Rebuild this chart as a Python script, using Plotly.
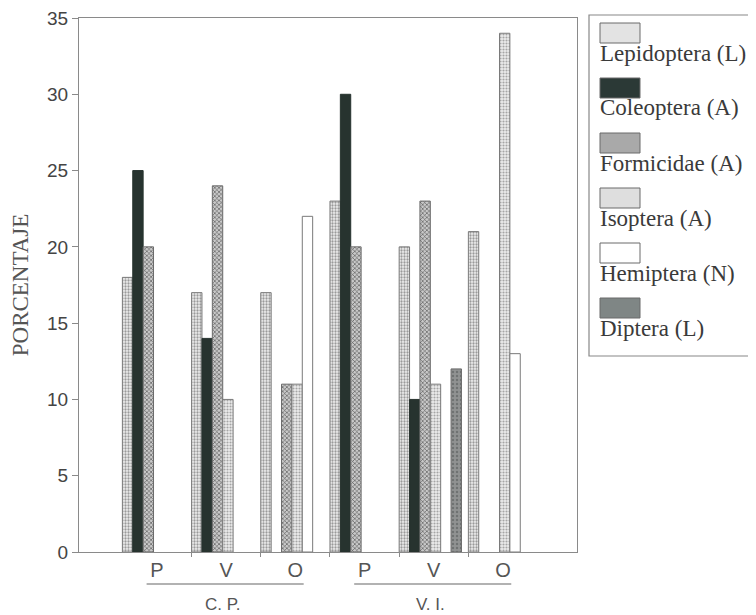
import plotly.graph_objects as go

# ---- data ----
groups = ["P", "V", "O", "P", "V", "O"]
sites = ["C. P.", "V. I."]
lepidoptera = [18, 17, 17, 23, 20, 21]
coleoptera = [25, 14, None, 30, 10, None]
formicidae = [20, 24, 11, 20, 23, None]
isoptera = [None, 10, 11, None, 11, 34]
hemiptera = [None, None, 22, None, None, 13]
diptera = [None, None, None, None, 12, None]
series_names = ["Lepidoptera (L)", "Coleoptera (A)", "Formicidae (A)",
                "Isoptera (A)", "Hemiptera (N)", "Diptera (L)"]
y_ticks = [0, 5, 10, 15, 20, 25, 30, 35]

series = [lepidoptera, coleoptera, formicidae, isoptera, hemiptera, diptera]

styles = [
    dict(color="#ebebeb", pattern=dict(shape=".", size=3, solidity=0.45,
                                       bgcolor="#eeeeee", fgcolor="#9a9a9a", fillmode="replace"),
         line=dict(color="#7a7a7a", width=1)),
    dict(color="#27332f", line=dict(color="#27332f", width=1)),
    dict(color="#b5b5b5", pattern=dict(shape="x", size=3, solidity=0.35,
                                       bgcolor="#c9c9c9", fgcolor="#4d4d4d", fillmode="replace"),
         line=dict(color="#6a6a6a", width=1)),
    dict(color="#e2e2e2", pattern=dict(shape=".", size=3, solidity=0.4,
                                       bgcolor="#ececec", fgcolor="#a5a5a5", fillmode="replace"),
         line=dict(color="#7a7a7a", width=1)),
    dict(color="#ffffff", line=dict(color="#7a7a7a", width=1)),
    dict(color="#8a8c8c", pattern=dict(shape=".", size=4, solidity=0.3,
                                       bgcolor="#909292", fgcolor="#6f7272", fillmode="replace"),
         line=dict(color="#6a6a6a", width=1)),
]
swatch_fill = ["#e3e3e3", "#2b3936", "#a9a9a9", "#dedede", "#ffffff", "#7f8685"]

n = len(series)
bw = 0.9 / n
xs = list(range(len(groups)))

fig = go.Figure()
for k, (vals, name, st) in enumerate(zip(series, series_names, styles)):
    fig.add_trace(go.Bar(
        x=xs, y=vals, name=name, width=bw, offset=-0.5 + k * bw,
        marker=st, showlegend=False,
    ))

# page body has an 8px margin: figure is shifted by (8, 8) in the window
PAGE = 8
PL, PR, PT, PB = 79, 577, 18, 552   # desired plot area in window pixels
W, H = 756 - PAGE, 615 - PAGE

axis_col = "#8a8a8a"
fig.update_layout(
    width=W, height=H,
    margin=dict(l=PL - PAGE, r=W - (PR - PAGE), t=PT - PAGE, b=H - (PB - PAGE)),
    plot_bgcolor="white", paper_bgcolor="white",
    barmode="overlay",
    font=dict(family="Liberation Sans, Arial, sans-serif", color="#444"),
    xaxis=dict(
        range=[-1.127, 6.07], tickvals=xs, ticktext=groups, ticks="",
        tickfont=dict(size=20, color="#555"), automargin=False,
        showgrid=False, zeroline=False, showline=True, linecolor=axis_col,
        linewidth=1.2, mirror=True,
        minor=dict(tickvals=[i + 0.5 for i in xs[:-1]], ticks="outside",
                   ticklen=4, tickcolor=axis_col, showgrid=False),
    ),
    yaxis=dict(
        range=[0, 35], tickvals=y_ticks, ticks="outside", ticklen=6,
        tickcolor=axis_col, tickfont=dict(size=19, color="#444"),
        automargin=False, ticklabeloverflow="allow",
        showgrid=False, zeroline=False, showline=True, linecolor=axis_col,
        linewidth=1.2, mirror=True,
        title=dict(text="PORCENTAJE",
                   font=dict(family="Liberation Serif, Times New Roman, serif",
                             size=23, color="#555"),
                   standoff=14),
    ),
)

def fx(p):  # window px -> paper x
    return (p - PL) / (PR - PL)

def fy(p):  # window px -> paper y
    return (PB - p) / (PB - PT)

# group labels with underlines beneath the P V O ticks
for gi, site in enumerate(sites):
    first, last = gi * 3, gi * 3 + 2
    fig.add_shape(type="line", xref="x", yref="paper",
                  x0=first - 0.15, x1=last + 0.12, y0=fy(584), y1=fy(584),
                  line=dict(color="#666", width=1.2))
    fig.add_annotation(x=(first + last) / 2 - 0.05, xref="x", y=fy(604), yref="paper",
                       text=site, showarrow=False, yanchor="middle",
                       font=dict(size=17, color="#555"))

# manual legend: swatch above text, inside a box
fig.add_shape(type="rect", xref="paper", yref="paper",
              x0=fx(589), x1=fx(754), y0=fy(356), y1=fy(15),
              line=dict(color="#888", width=1.2), fillcolor="white", layer="below")
for k, name in enumerate(series_names):
    top = 23 + 55 * k
    fig.add_shape(type="rect", xref="paper", yref="paper",
                  x0=fx(600), x1=fx(640), y0=fy(top + 20), y1=fy(top),
                  line=dict(color="#6a6a6a", width=1), fillcolor=swatch_fill[k])
    fig.add_annotation(xref="paper", yref="paper",
                       x=fx(598), y=fy(53 + 55 * k),
                       xanchor="left", yanchor="middle", showarrow=False,
                       text=name,
                       font=dict(family="Liberation Serif, Times New Roman, serif",
                                 size=23, color="#3a3a3a"))

fig.write_html("out.html")
